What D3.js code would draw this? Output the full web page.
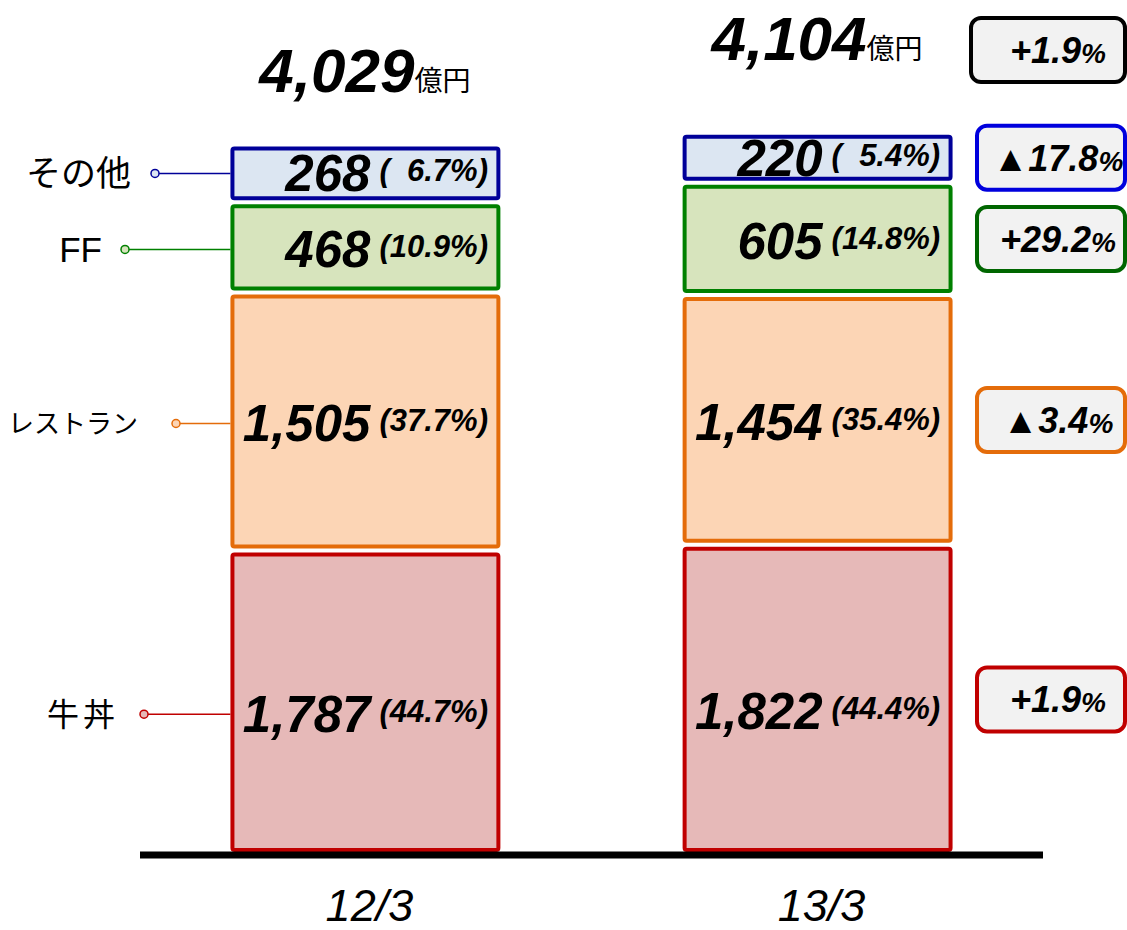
<!DOCTYPE html>
<html lang="ja">
<head>
<meta charset="UTF-8">
<title>売上高 セグメント別構成</title>
<script src="https://d3js.org/d3.v7.min.js"></script>
<style>
  body, html { margin: 0; padding: 0; background: #fff; }
  svg { display: block; }
  .num { font-family: "Liberation Sans", Arial, sans-serif; font-weight: bold; font-style: italic; }
  .jp { font-family: "Noto Sans CJK JP", sans-serif; }
  .shr { white-space: pre; }
</style>
</head>
<body>
<div id="chart"></div>
<script>
// data (segments bottom -> top)
const periods = ["12/3", "13/3"];
const segments = ["牛丼", "レストラン", "FF", "その他"];
const sales12 = [1787, 1505, 468, 268];
const sales13 = [1822, 1454, 605, 220];
const share12 = [44.7, 37.7, 10.9, 6.7];
const share13 = [44.4, 35.4, 14.8, 5.4];
const totals = [4029, 4104];
const changes = [1.9, -3.4, 29.2, -17.8];
const totalChange = 1.9;

// styles
const fills = ["#e6b9b8", "#fcd5b5", "#d7e4bd", "#dce6f2"];
const strokes = ["#c00000", "#e46c0a", "#008000", "#000099"];
const boxStrokes = ["#c00000", "#e46c0a", "#006600", "#0000dd"];

const width = 1127, height = 930;
const baseY = 852;
const gap = 4;

const svg = d3.select("#chart").append("svg")
    .attr("width", width)
    .attr("height", height);

const x = d3.scaleBand()
    .domain(periods)
    .range([140, 1043])
    .paddingInner(0.403)
    .paddingOuter(0.2);

// box height per value (boxes carry some padding, so range starts above 0)
const h = d3.scaleLinear()
    .domain([0, 2000])
    .range([10.5, 334]);

const fmt = d3.format(",");
const series = [sales12, sales13];
const shares = [share12, share13];

// build stacked boxes
const boxes = [];
series.forEach((vals, p) => {
  let top = baseY;
  vals.forEach((v, i) => {
    const hh = h(v);
    const y1 = top;
    const y0 = top - hh;
    boxes.push({ p, i, v, share: shares[p][i], y0, y1, cy: (y0 + y1) / 2 });
    top = y0 - gap;
  });
});

const labelShift = [12, 2, 2, 0];

const g = svg.append("g");

g.selectAll("rect.seg")
  .data(boxes)
  .enter().append("rect")
    .attr("class", "seg")
    .attr("x", d => x(periods[d.p]) + 2)
    .attr("y", d => d.y0 + 2)
    .attr("width", x.bandwidth() - 4)
    .attr("height", d => d.y1 - d.y0 - 4)
    .attr("rx", 2)
    .attr("fill", d => fills[d.i])
    .attr("stroke", d => strokes[d.i])
    .attr("stroke-width", 4);

// value labels
g.selectAll("text.val")
  .data(boxes)
  .enter().append("text")
    .attr("class", "num val")
    .attr("x", d => x(periods[d.p]) + x.bandwidth() / 2 + 5)
    .attr("y", d => d.cy + labelShift[d.i] + 18)
    .attr("text-anchor", "end")
    .style("font-size", "51px")
    .text(d => fmt(d.v));

// share labels
const shr = g.selectAll("text.shr")
  .data(boxes)
  .enter().append("text")
    .attr("class", "num shr")
    .attr("x", d => x(periods[d.p]) + x.bandwidth() / 2 + 14)
    .attr("y", d => d.cy + labelShift[d.i] + 8)
    .style("font-size", "31px");
shr.append("tspan").text("(");
shr.append("tspan").text(d => (d.share < 10 ? "  " : "") + d.share.toFixed(1));
shr.append("tspan").text("%");
shr.append("tspan").text(")");

// totals above bars
const totalY = [92, 60];
totals.forEach((t, p) => {
  const cx = x(periods[p]) + x.bandwidth() / 2 + 49;
  svg.append("text")
    .attr("class", "num")
    .attr("x", cx).attr("y", totalY[p])
    .attr("text-anchor", "end")
    .style("font-size", "62px")
    .text(fmt(t));
  svg.append("text")
    .attr("class", "jp")
    .attr("x", cx).attr("y", totalY[p] - 1)
    .style("font-size", "28px")
    .text("億円");
});

// baseline
svg.append("line")
  .attr("x1", 140).attr("x2", 1043)
  .attr("y1", baseY + 3).attr("y2", baseY + 3)
  .attr("stroke", "#000")
  .attr("stroke-width", 7);

// period labels
svg.selectAll("text.period")
  .data(periods)
  .enter().append("text")
    .attr("class", "period")
    .attr("x", d => x(d) + x.bandwidth() / 2 + 4)
    .attr("y", 921)
    .attr("text-anchor", "middle")
    .style("font-family", "'Liberation Sans', Arial, sans-serif")
    .style("font-style", "italic")
    .style("font-size", "45px")
    .text(d => d);

// left legend with leader lines (positions follow first bar)
const legend = [
  { dotX: 144, textX: 119, font: "jp", size: 32, spacing: 4 },
  { dotX: 176, textX: 138, font: "jp", size: 26, spacing: 0 },
  { dotX: 125, textX: 102, font: "latin", size: 35, spacing: 0 },
  { dotX: 155, textX: 131, font: "jp", size: 35, spacing: 0 }
];
const firstBar = boxes.filter(d => d.p === 0);
const barLeft = x(periods[0]);

firstBar.forEach(d => {
  const L = legend[d.i];
  const ly = d.cy + labelShift[d.i];
  svg.append("line")
    .attr("x1", L.dotX + 4).attr("x2", barLeft)
    .attr("y1", ly).attr("y2", ly)
    .attr("stroke", strokes[d.i])
    .attr("stroke-width", 1.5);
  svg.append("circle")
    .attr("cx", L.dotX).attr("cy", ly).attr("r", 4)
    .attr("fill", fills[d.i])
    .attr("stroke", strokes[d.i])
    .attr("stroke-width", 1.5);
  svg.append("text")
    .attr("x", L.textX).attr("y", ly + L.size * 0.36)
    .attr("text-anchor", "end")
    .style("font-family", L.font === "jp" ? "'Noto Sans CJK JP', sans-serif" : "'Liberation Sans', Arial, sans-serif")
    .style("font-size", L.size + "px")
    .style("letter-spacing", L.spacing + "px")
    .text(segments[d.i]);
});

// change boxes on the right
const fmtChange = v => (v < 0 ? "▲" : "+") + Math.abs(v).toFixed(1);
const secondBar = boxes.filter(d => d.p === 1);
const changeBoxes = secondBar.map(d => ({ cy: d.cy, v: changes[d.i], stroke: boxStrokes[d.i] }));
changeBoxes.push({ cy: 50, v: totalChange, stroke: "#000", total: true });

const cb = svg.selectAll("g.chg")
  .data(changeBoxes)
  .enter().append("g")
    .attr("class", "chg");

cb.append("rect")
  .attr("x", d => d.total ? 971 : 977)
  .attr("y", d => d.cy - 32)
  .attr("width", d => d.total ? 154 : 148)
  .attr("height", 64)
  .attr("rx", 10)
  .attr("fill", "#f2f2f2")
  .attr("stroke", d => d.stroke)
  .attr("stroke-width", 4);

const ct = cb.append("text")
  .attr("class", "num")
  .attr("x", 1058)
  .attr("y", d => d.cy + 13)
  .attr("text-anchor", "middle")
  .style("font-size", "36px");
ct.append("tspan").text(d => fmtChange(d.v));
ct.append("tspan").style("font-size", "28px").text("%");
</script>
</body>
</html>
